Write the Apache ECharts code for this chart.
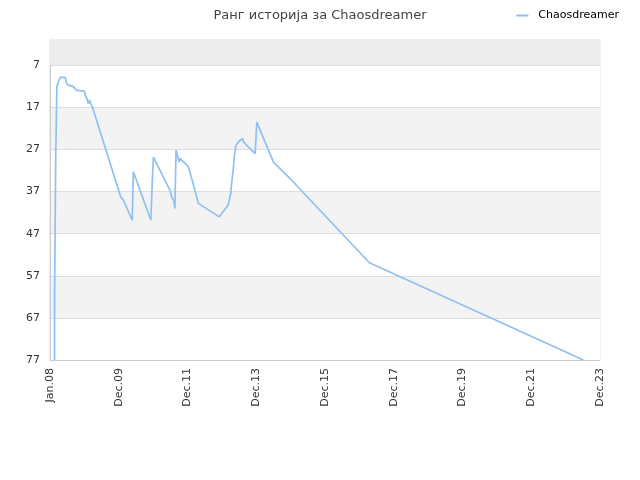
<!DOCTYPE html>
<html>
<head>
<meta charset="utf-8">
<script src="https://cdn.jsdelivr.net/npm/echarts@6/dist/echarts.min.js"></script>
<style>
  html, body { margin: 0; padding: 0; background: #fff; }
  #main { width: 640px; height: 480px; }
</style>
</head>
<body>
<div id="main"></div>
<script>
// x labels, one every 24 months, counted from Jan.08 = 0
var xLabels = ['Jan.08', 'Dec.09', 'Dec.11', 'Dec.13', 'Dec.15', 'Dec.17', 'Dec.19', 'Dec.21', 'Dec.23'];
// month index of each point
var months = [1.6, 1.6, 2.0, 2.0, 2.4, 2.4, 3.1, 3.6, 5.3, 5.7, 6.3, 8.0, 9.2, 12.1, 12.3, 13.0, 13.3, 13.9, 14.2, 14.8,
  24.7, 25.0, 25.6, 28.7, 29.1, 35.2, 35.5, 35.7, 36.1, 36.7, 40.1, 41.9, 42.5, 43.3, 43.6, 44.0, 44.4, 45.1, 45.4,
  48.3, 48.9, 51.8, 59.1, 62.2, 63.1, 63.4, 64.0, 64.3, 64.9, 66.1, 67.3, 67.5, 71.6, 72.2, 72.7, 78.0, 83.8, 111.5, 186.2];
// rank at each point
var ranks = [77, 61.2, 61.2, 29.1, 29.1, 12.1, 10.6, 9.9, 9.9, 11.2, 11.7, 12.0, 12.9, 13.2, 14.1, 15.1, 16.1, 15.3, 16.1, 16.9,
  38.3, 38.6, 39.0, 43.8, 32.3, 43.8, 43.8, 34.7, 28.8, 28.4, 34.3, 36.7, 38.3, 39.4, 41.0, 27.2, 27.0, 30.0, 29.1,
  31.1, 32.5, 39.8, 43.0, 40.2, 37.4, 35.1, 31.5, 28.8, 26.0, 25.0, 24.4, 25.2, 28.0, 20.5, 20.5, 30.0, 33.9, 53.9, 77];

var worst = 77;
// axis runs upward from worst rank, so plot (worst - rank)
var data = months.map(function (m, i) {
  return [m, worst - ranks[i]];
});

var chart = echarts.init(document.getElementById('main'));
chart.setOption({
  animation: false,
  textStyle: { fontFamily: 'DejaVu Sans' },
  title: {
    text: 'Ранг историја за Chaosdreamer',
    left: 'center',
    top: 4,
    textStyle: { fontSize: 13, fontWeight: 'normal', color: '#444', fontFamily: 'DejaVu Sans' }
  },
  legend: {
    right: 16,
    top: 5,
    icon: 'rect',
    itemWidth: 12,
    itemHeight: 2,
    textStyle: { fontSize: 11, color: '#000', padding: [0, 0, 0, 5] },
    data: ['Chaosdreamer']
  },
  grid: {
    left: 50, right: 40, top: 40, bottom: 120,
    show: true,
    borderColor: '#ddd',
    borderWidth: 1
  },
  xAxis: {
    type: 'value',
    min: 0,
    max: 192,
    interval: 24,
    axisLine: { show: true, lineStyle: { color: '#ccc' } },
    axisTick: { show: false },
    splitLine: { show: false },
    axisLabel: {
      rotate: 90,
      fontSize: 11,
      color: '#333',
      margin: 8,
      formatter: function (v) { return xLabels[Math.round(v / 24)] || ''; }
    }
  },
  yAxis: {
    type: 'value',
    min: 0,
    max: 76,
    interval: 10,
    axisLine: { show: true, lineStyle: { color: '#ccc' } },
    axisTick: { show: false },
    splitLine: { show: true, lineStyle: { color: '#ddd' } },
    splitArea: { show: true, areaStyle: { color: ['#fff', '#f3f3f3'] } },
    axisLabel: {
      fontSize: 11,
      color: '#333',
      margin: 10,
      showMaxLabel: false,
      formatter: function (v) { return v % 10 === 0 ? String(worst - v) : ''; }
    }
  },
  series: [{
    name: 'Chaosdreamer',
    type: 'line',
    symbol: 'none',
    color: '#8ec0f3',
    lineStyle: { width: 1.7, color: '#8ec0f3' },
    data: data,
    markArea: {
      silent: true,
      itemStyle: { color: '#ececec' },
      data: [[{ yAxis: 70 }, { yAxis: 76 }]]
    }
  }]
});
</script>
</body>
</html>
